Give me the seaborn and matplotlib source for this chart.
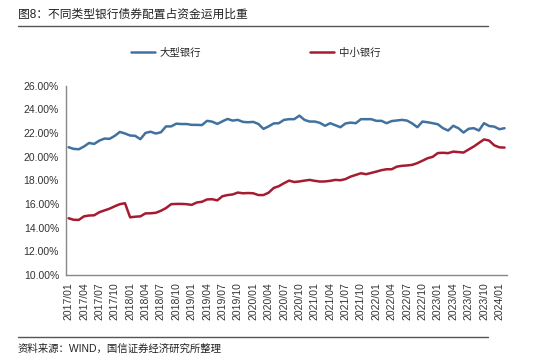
import numpy as np
import pandas as pd
import matplotlib
matplotlib.use("Agg")
import matplotlib.pyplot as plt
import seaborn as sns

# data, monthly 2017/01 - 2024/02 (%)
large_banks = [20.79, 20.65, 20.62, 20.85, 21.15, 21.07, 21.35, 21.52, 21.50, 21.75,
               22.08, 21.95, 21.78, 21.75, 21.47, 22.00, 22.10, 21.95, 22.05, 22.55,
               22.55, 22.78, 22.75, 22.75, 22.68, 22.68, 22.66, 23.02, 22.95, 22.76,
               22.98, 23.18, 23.04, 23.10, 22.93, 22.90, 22.93, 22.76, 22.34, 22.55,
               22.80, 22.82, 23.10, 23.16, 23.16, 23.46, 23.10, 22.96, 22.96, 22.85,
               22.60, 22.82, 22.65, 22.48, 22.80, 22.87, 22.82, 23.16, 23.16, 23.16,
               23.02, 23.02, 22.82, 23.00, 23.05, 23.10, 23.04, 22.80, 22.48, 22.96,
               22.90, 22.82, 22.73, 22.40, 22.20, 22.60, 22.40, 22.03, 22.35, 22.40,
               22.20, 22.82, 22.58, 22.53, 22.31, 22.40]
small_mid_banks = [14.79, 14.66, 14.65, 14.95, 15.02, 15.04, 15.30, 15.45, 15.60, 15.80,
                   15.98, 16.06, 14.87, 14.92, 14.95, 15.20, 15.21, 15.25, 15.42, 15.65,
                   15.98, 16.00, 16.00, 15.98, 15.92, 16.12, 16.18, 16.38, 16.40, 16.30,
                   16.65, 16.75, 16.80, 16.96, 16.90, 16.92, 16.90, 16.75, 16.75, 16.95,
                   17.35, 17.50, 17.75, 17.97, 17.85, 17.90, 17.97, 18.03, 17.95, 17.89,
                   17.90, 17.95, 18.03, 18.00, 18.10, 18.31, 18.45, 18.59, 18.51, 18.62,
                   18.73, 18.85, 18.93, 18.93, 19.15, 19.22, 19.25, 19.30, 19.45, 19.65,
                   19.86, 19.98, 20.30, 20.32, 20.29, 20.42, 20.38, 20.34, 20.60, 20.85,
                   21.15, 21.45, 21.35, 20.95, 20.78, 20.76]
months = pd.date_range("2017-01-01", periods=len(large_banks), freq="MS").strftime("%Y/%m").tolist()
tick_labels = months[::3]  # 2017/01, 2017/04, ... 2024/01
y_ticks = [10, 12, 14, 16, 18, 20, 22, 24, 26]

names = ["大型银行", "中小银行"]
colors = ["#41729F", "#A51C30"]

df = pd.DataFrame({
    "idx": list(range(len(months))) * 2,
    "value": large_banks + small_mid_banks,
    "series": [names[0]] * len(months) + [names[1]] * len(months),
})

sns.set_theme(style="white")
plt.rcParams["font.family"] = ["Liberation Sans", "Noto Sans CJK SC", "DejaVu Sans"]

fig = plt.figure(figsize=(5.5, 3.58), dpi=100)
ax = fig.add_axes([0.12, 0.232, 0.802, 0.529])

sns.lineplot(data=df, x="idx", y="value", hue="series", palette=colors,
             linewidth=1.8, ax=ax, legend=False)

ax.set_xlim(-0.5, len(months) - 0.5)
ax.set_ylim(10, 26)
ax.set_yticks(y_ticks)
ax.set_yticklabels([f"{v:.2f}%" for v in y_ticks], fontsize=7.5, color="#333333")
ax.set_xticks(range(0, len(months), 3))
ax.set_xticklabels(tick_labels, rotation=90, fontsize=7.5, color="#333333")
ax.set_xlabel("")
ax.set_ylabel("")
for s in ["top", "right"]:
    ax.spines[s].set_visible(False)
for s in ["left", "bottom"]:
    ax.spines[s].set_color("#888888")
    ax.spines[s].set_linewidth(1.0)
ax.tick_params(axis="both", direction="inout", length=4, width=0.8, color="#888888", pad=3)
ax.grid(False)

# legend
handles = [plt.Line2D([], [], color=c, lw=1.8) for c in colors]
fig.legend(handles, names, loc="center", bbox_to_anchor=(0.465, 1 - 53 / 358), ncol=2,
           frameon=False, fontsize=7.5, handlelength=2.3, handletextpad=0.4,
           columnspacing=10.5)

# title and source
fig.text(18 / 550, 1 - 15 / 358, "图8：不同类型银行债券配置占资金运用比重",
         fontsize=8.5, color="#222222", va="center", ha="left")
fig.add_artist(plt.Line2D([18 / 550, 488 / 550], [1 - 26 / 358, 1 - 26 / 358],
                          color="#555555", lw=1.0))
fig.add_artist(plt.Line2D([18 / 550, 488 / 550], [1 - 337 / 358, 1 - 337 / 358],
                          color="#555555", lw=1.0))
fig.text(18 / 550, 1 - 349 / 358, "资料来源：WIND，国信证券经济研究所整理",
         fontsize=7.5, color="#222222", va="center", ha="left")

fig.savefig("out.png", dpi=100)
